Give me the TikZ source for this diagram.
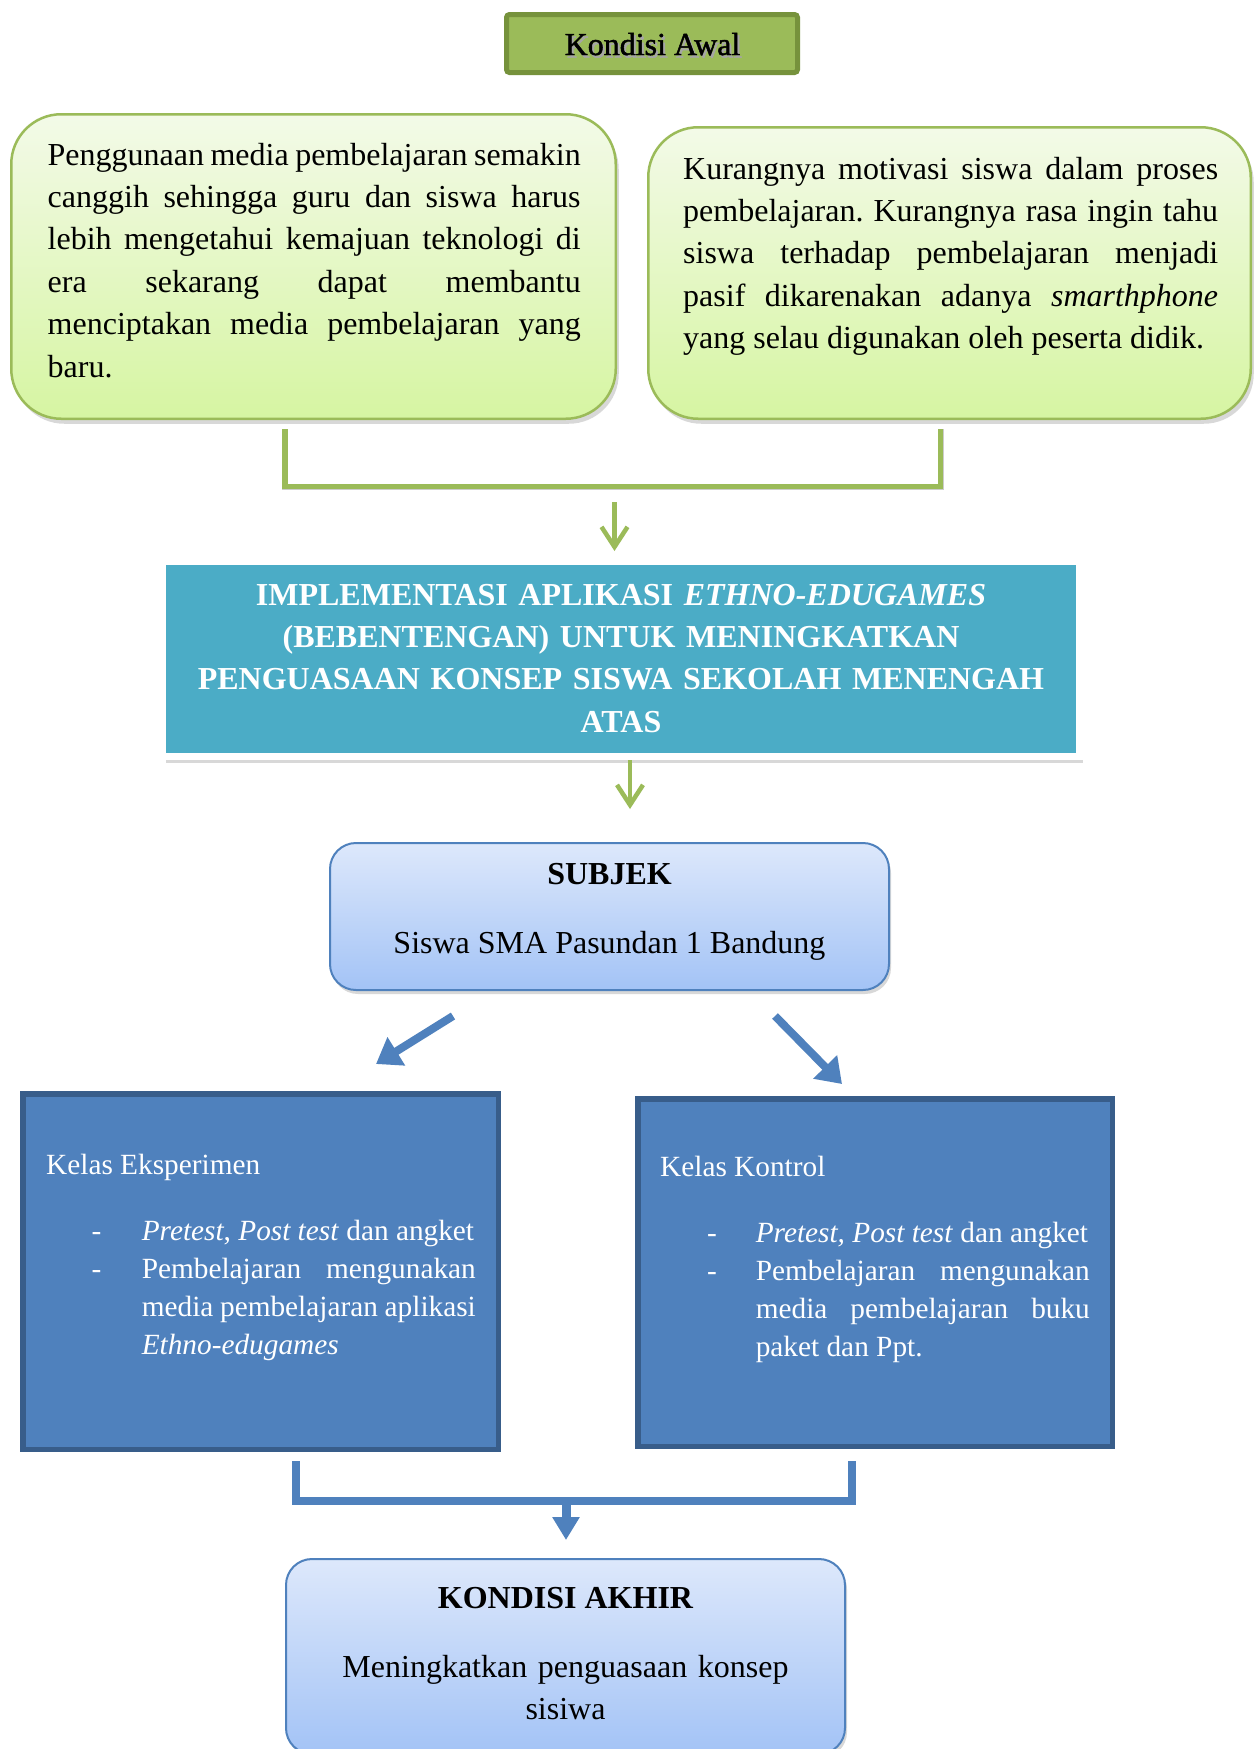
\documentclass[tikz,border=0pt]{standalone}
\usepackage{fontspec}
\setmainfont{Liberation Serif}
\newfontfamily\awalfont[FakeBold=1.5]{Liberation Serif}
\usetikzlibrary{arrows.meta,shadows,calc}
\definecolor{hijau}{HTML}{9BBB59}
\definecolor{hijautua}{HTML}{76923C}
\definecolor{hijaumuda}{HTML}{F3FAE8}
\definecolor{hijaulime}{HTML}{D6F5A2}
\definecolor{tosca}{HTML}{4BACC6}
\definecolor{biru}{HTML}{4F81BD}
\definecolor{birutua}{HTML}{385D8A}
\definecolor{birumuda}{HTML}{DDE8FB}
\definecolor{birusedang}{HTML}{A3C3F6}
\begin{document}
\begin{tikzpicture}[x=1pt,y=-1pt,
  greenbox/.style={draw=hijau, line width=2.5pt, rounded corners=50pt, top color=hijaumuda, bottom color=hijaulime,
     drop shadow={shadow xshift=3pt, shadow yshift=-5pt, opacity=0.3}},
  bluebox/.style={draw=biru, line width=2pt, rounded corners=26pt, top color=birumuda, bottom color=birusedang,
     drop shadow={shadow xshift=2pt, shadow yshift=-4pt, opacity=0.3}},
  awalbox/.style={draw=hijautua, fill=hijau, line width=5pt, rounded corners=3pt},
  tealbox/.style={draw=white, fill=tosca, line width=7pt,
     drop shadow={shadow xshift=3pt, shadow yshift=-6pt, opacity=0.3}},
  kelasbox/.style={draw=birutua, fill=biru, line width=5.5pt},
  txtbig/.style={font=\fontsize{32}{42.4}\selectfont, inner sep=0pt},
  txtsmall/.style={font=\fontsize{29.3}{38.3}\selectfont, inner sep=0pt, text=white},
  gline/.style={draw=hijau, line width=5.5pt},
  lineshadow/.style={draw=black, opacity=0.2},
  garrow/.style={draw=hijau, line width=4.5pt, -{Straight Barb[length=20pt,width=26pt]}},
  bline/.style={draw=biru, line width=8pt},
  barrow/.style={draw=biru, line width=8pt, -{Triangle[length=24pt,width=32pt]}},
  bdarrow/.style={draw=biru, line width=9pt, -{Triangle[length=23pt,width=26pt]}}
]
\fill[white] (0,0) rectangle (1258,1749);
\useasboundingbox (0,0) rectangle (1258,1749);

% Kondisi Awal
\node[awalbox, minimum width=291pt, minimum height=58pt] (awal) at (652,43.5) {};
\node[font=\awalfont\fontsize{32}{38}\selectfont, inner sep=0pt, anchor=base, text=black!35] (awalbayang) at (654.5,57.5) {Kondisi Awal};
\node[font=\awalfont\fontsize{32}{38}\selectfont, inner sep=0pt, anchor=base] (awaltxt) at (652.5,55) {Kondisi Awal};

% green boxes
\node[greenbox, minimum width=604.5pt, minimum height=304.5pt] (kiri) at (313.5,266.5) {};
\node[greenbox, minimum width=602.5pt, minimum height=291.5pt] (kanan) at (949.5,273) {};
\node[txtbig, text width=533pt, align=justify, anchor=base west] (kiritxt) at (47.5,165)
 {\frenchspacing\hyphenpenalty10000 \tolerance10000
  Penggunaan media pembelajaran semakin\linebreak canggih sehingga guru dan siswa harus\linebreak lebih mengetahui kemajuan teknologi di\linebreak era sekarang dapat membantu\linebreak menciptakan media pembelajaran yang\linebreak baru.};
\node[txtbig, text width=535pt, align=justify, anchor=base west] (kanantxt) at (683,179)
 {\frenchspacing\hyphenpenalty10000 \tolerance10000
  Kurangnya motivasi siswa dalam proses\linebreak pembelajaran. Kurangnya rasa ingin tahu\linebreak siswa terhadap pembelajaran menjadi\linebreak pasif dikarenakan adanya \textit{smarthphone}\linebreak yang selau digunakan oleh peserta didik.};

% green bracket
\coordinate (gkiri) at (285,429);
\coordinate (gkanan) at (940.5,429);
\begin{scope}[shift={(2,4)}]
\draw[lineshadow, line width=6pt] (gkiri) -- ++(0,57.5) -| (gkanan);
\end{scope}
\draw[gline] (gkiri) -- ++(0,57.5) -| (gkanan);

% teal title
\node[tealbox, minimum width=917pt, minimum height=195pt] (judul) at (621,659) {};
\node[txtbig, text=white, text width=917pt, align=center, anchor=base] (judultxt) at (621,605)
 {\bfseries IMPLEMENTASI APLIKASI \textit{ETHNO-EDUGAMES}\\
  (BEBENTENGAN) UNTUK MENINGKATKAN\\
  PENGUASAAN KONSEP SISWA SEKOLAH MENENGAH\\
  ATAS};

% green arrows
\coordinate (ga1) at (614.5,502);
\draw[garrow, shorten >=7pt] (ga1) -- (ga1 |- judul.north);
\coordinate (ga2) at (630,809);
\draw[garrow] (ga2 |- judul.south) -- (ga2);

% subjek
\node[bluebox, minimum width=559pt, minimum height=147pt] (subjek) at (609.5,916.5) {};
\node[txtbig, anchor=base] (subjekjud) at (609.5,884) {\bfseries SUBJEK};
\node[txtbig, anchor=base] (subjektxt) at (609.5,953) {Siswa SMA Pasundan 1 Bandung};

% blue arrows
\coordinate (bk1) at (453,1016);
\coordinate (bk2) at (376,1064);
\draw[barrow] (bk1) -- (bk2);
\coordinate (bn1) at (775,1016);
\coordinate (bn2) at (842,1084);
\draw[barrow] (bn1) -- (bn2);

% kelas boxes
\node[kelasbox, minimum width=475.5pt, minimum height=355.5pt] (eksp) at (260.5,1271.5) {};
\node[kelasbox, minimum width=474.5pt, minimum height=347.5pt] (kont) at (875,1272.5) {};

\node[txtsmall, anchor=base west] (eksjud) at (46,1174) {Kelas Eksperimen};
\node[txtsmall, anchor=base] (eksd1) at (96.5,1240) {-};
\node[txtsmall, anchor=base] (eksd2) at (96.5,1278) {-};
\node[txtsmall, text width=334pt, align=justify, anchor=base west] (eksb1) at (141.6,1240)
 {\textit{Pretest}, \textit{Post test} dan angket};
\node[txtsmall, text width=334pt, align=justify, anchor=base west] (eksb2) at (141.6,1278)
 {\hyphenpenalty10000 \exhyphenpenalty10000 \tolerance10000
  Pembelajaran mengunakan\linebreak media pembelajaran aplikasi\linebreak \textit{Ethno-edugames}};

\node[txtsmall, anchor=base west] (konjud) at (660,1176) {Kelas Kontrol};
\node[txtsmall, anchor=base] (kond1) at (712,1242) {-};
\node[txtsmall, anchor=base] (kond2) at (712,1280) {-};
\node[txtsmall, text width=334pt, align=justify, anchor=base west] (konb1) at (755.6,1242)
 {\textit{Pretest, Post test} dan angket};
\node[txtsmall, text width=334pt, align=justify, anchor=base west] (konb2) at (755.6,1280)
 {\hyphenpenalty10000 \tolerance10000
  Pembelajaran mengunakan\linebreak media pembelajaran buku\linebreak paket dan Ppt.};

% blue bracket
\coordinate (bkiri) at (295.5,1461);
\coordinate (bkanan) at (851.5,1461);
\begin{scope}[shift={(2,4)}]
\draw[lineshadow, line width=8pt] (bkiri) -- ++(0,40) -| (bkanan);
\end{scope}
\draw[bline] (bkiri) -- ++(0,40) -| (bkanan);

% kondisi akhir
\node[bluebox, minimum width=559pt, minimum height=195pt] (akhir) at (565.5,1656.5) {};
\coordinate (bpanah) at (566,1497);
\draw[bdarrow, shorten >=18pt] (bpanah) -- (bpanah |- akhir.north);
\node[txtbig, anchor=base] (akhirjud) at (565.5,1608) {\bfseries KONDISI AKHIR};
\node[txtbig, text width=559pt, align=center, anchor=base] (akhirtxt) at (565.5,1677) {Meningkatkan penguasaan konsep\\sisiwa};
\end{tikzpicture}
\end{document}
